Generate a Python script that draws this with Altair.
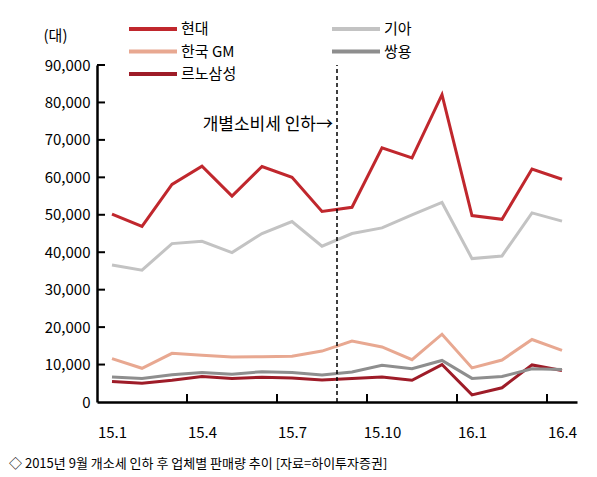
import altair as alt
import pandas as pd

months = ["15.1","15.2","15.3","15.4","15.5","15.6","15.7","15.8",
          "15.9","15.10","15.11","15.12","16.1","16.2","16.3","16.4"]
series = ["현대", "한국 GM", "르노삼성", "기아", "쌍용"]
hyundai = [50200, 46900, 58100, 63000, 55000, 62900, 60000, 50900,
           52000, 67900, 65200, 82100, 49800, 48800, 62200, 59500]
kia = [36600, 35200, 42300, 42900, 39900, 45000, 48200, 41600,
       45000, 46500, 50000, 53300, 38300, 39000, 50500, 48300]
gm = [11600, 9000, 13000, 12500, 12000, 12100, 12200, 13600,
      16300, 14700, 11300, 18100, 9100, 11200, 16700, 13800]
ssangyong = [6700, 6300, 7300, 7900, 7400, 8100, 7900, 7200,
             8000, 9800, 8900, 11100, 6300, 6800, 8900, 8700]
renault = [5500, 5000, 5800, 6800, 6300, 6600, 6400, 5900,
           6300, 6700, 5800, 10000, 1900, 3800, 9900, 8400]
colors = ["#c0272d", "#e8a891", "#9e1c28", "#c3c3c3", "#8e8e8e"]
y_ticks = [0, 10000, 20000, 30000, 40000, 50000, 60000, 70000, 80000, 90000]
label_idx = [0, 3, 6, 9, 12, 15]
boundaries = [2.5, 5.5, 8.5, 11.5, 14.5]
cut_pos = 7.5
note = "개별소비세  인하→"
note_y = 74000

rows = []
for name, vals in zip(series, [hyundai, gm, renault, kia, ssangyong]):
    for i, (m, v) in enumerate(zip(months, vals)):
        rows.append({"series": name, "idx": i, "month": m, "value": v})
df = pd.DataFrame(rows)

FONT = "Noto Sans CJK KR"
label_expr = "[" + ",".join("'%s'" % m for m in months) + "][datum.value]"

x_scale = alt.Scale(domain=[-0.5, 15.5], nice=False, zero=False)
y_scale = alt.Scale(domain=[0, 90000], nice=False)

x_axis = alt.Axis(values=label_idx, labelExpr=label_expr, title=None,
                  ticks=False, grid=False, domainColor="black",
                  domainWidth=2.5, labelFontSize=15, labelPadding=23,
                  labelColor="black", labelFont=FONT)
y_axis = alt.Axis(values=y_ticks, format=",.0f", title="(대)", titleAngle=0,
                  titleX=-42, titleY=-22, titleFontWeight="normal",
                  titleFontSize=15, titleFont=FONT, titleColor="black",
                  ticks=False, grid=False, domainColor="black",
                  domainWidth=2.5, labelFontSize=15, labelPadding=7,
                  labelOverlap=False, labelColor="black", labelFont=FONT)

lines = alt.Chart(df).mark_line(strokeWidth=3).encode(
    x=alt.X("idx:Q", scale=x_scale, axis=x_axis),
    y=alt.Y("value:Q", scale=y_scale, axis=y_axis),
    color=alt.Color("series:N", scale=alt.Scale(domain=series, range=colors),
                    legend=alt.Legend(title=None, orient="none", legendX=48,
                                      legendY=-44, columns=2, columnPadding=87,
                                      rowPadding=6.5, symbolType="M-4,0H4",
                                      symbolSize=144, symbolStrokeWidth=4,
                                      labelFontSize=15, labelFont=FONT,
                                      labelColor="black", labelOffset=20)),
    order=alt.Order("idx:Q"),
)

tdf = pd.DataFrame({"b": boundaries})
xticks = alt.Chart(tdf).mark_rule(color="black", strokeWidth=2).encode(
    x=alt.X("b:Q", scale=x_scale, axis=x_axis), y=alt.value(337), y2=alt.value(329))

ydf = pd.DataFrame({"v": y_ticks[1:]})
yticks = alt.Chart(ydf).mark_rule(color="black", strokeWidth=2).encode(
    y=alt.Y("v:Q", scale=y_scale, axis=y_axis), x=alt.value(0), x2=alt.value(8))

cdf = pd.DataFrame({"c": [cut_pos], "y0": [0], "y1": [90000],
                    "t": [note], "ty": [note_y]})
cut = alt.Chart(cdf).mark_rule(color="black", strokeWidth=1.5,
                               strokeDash=[4, 3]).encode(
    x=alt.X("c:Q", scale=x_scale, axis=x_axis),
    y=alt.Y("y0:Q", scale=y_scale, axis=y_axis),
    y2="y1:Q")
txt = alt.Chart(cdf).mark_text(align="right", baseline="middle", dx=-4,
                               fontSize=17, font=FONT, color="black").encode(
    x=alt.X("c:Q", scale=x_scale, axis=x_axis),
    y=alt.Y("ty:Q", scale=y_scale, axis=y_axis), text="t:N")

chart = alt.layer(lines, xticks, yticks, cut, txt).properties(
    width=480, height=337,
    autosize=alt.AutoSizeParams(type="none"),
    padding={"left": 89, "top": 57, "right": 12, "bottom": 76},
    title=alt.TitleParams(
        text="◇ 2015년 9월 개소세 인하 후 업체별 판매량 추이 [자료=하이투자증권]",
        orient="bottom", anchor="start", dx=-34, offset=18, fontSize=13,
        fontWeight="normal", font=FONT, color="black"),
).configure_view(stroke=None)

chart.save("out.html", embed_options={"renderer": "svg", "actions": False})
